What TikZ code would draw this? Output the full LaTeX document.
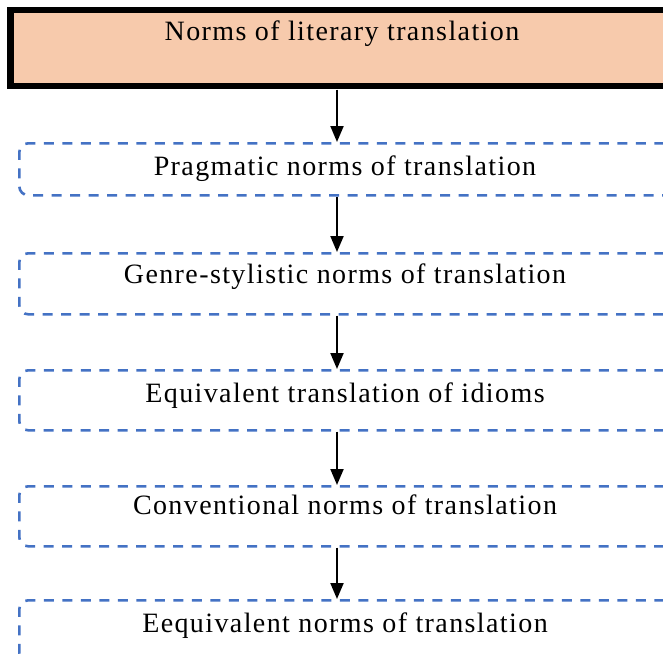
\documentclass[tikz,border=0pt]{standalone}
\usepackage{fontspec}
\setmainfont[LetterSpace=5]{Liberation Serif}
\usetikzlibrary{arrows.meta}
\definecolor{peach}{HTML}{F7CAAC}
\definecolor{dashblue}{HTML}{4472C4}
\tikzset{
  topbox/.style={draw=black, line width=6.5pt, fill=peach, inner sep=0pt},
  dbox/.style={draw=dashblue, line width=2.6pt, dash pattern=on 10pt off 8.5pt, rounded corners=9pt, inner sep=0pt},
  lbl/.style={font=\fontsize{28}{33}\selectfont, anchor=base, inner sep=0pt},
  flow/.style={draw=black, line width=2pt, -{Triangle[width=13pt,length=16pt]}}
}
\begin{document}
\begin{tikzpicture}[x=1pt,y=-1pt]
\useasboundingbox (0,0) rectangle (663,653);
\clip (0,0) rectangle (663,653);
\draw[topbox] (10.5,10) rectangle (674,86);
\coordinate (top) at (337,89.5);
\node[lbl] (t0) at (342,40) {Norms of literary translation};
\node[dbox, minimum width=654pt, minimum height=52pt, anchor=north west] (b1) at (18,142) {};
\node[dbox, minimum width=654pt, minimum height=61pt, anchor=north west] (b2) at (18,252) {};
\node[dbox, minimum width=654pt, minimum height=60pt, anchor=north west] (b3) at (18,369) {};
\node[dbox, minimum width=654pt, minimum height=60pt, anchor=north west] (b4) at (18,485) {};
\node[dbox, minimum width=654pt, minimum height=62pt, anchor=north west] (b5) at (18,599) {};
\node[lbl] (t1) at (345,175) {Pragmatic norms of translation};
\node[lbl] (t2) at (345,283) {Genre-stylistic norms of translation};
\node[lbl] (t3) at (345,402) {Equivalent translation of idioms};
\node[lbl] (t4) at (345,514) {Conventional norms of translation};
\node[lbl] (t5) at (345,632) {Eequivalent norms of translation};
\draw[flow] (top) -- (top |- b1.north);
\draw[flow] (b1.south -| top) -- (top |- b2.north);
\draw[flow] (b2.south -| top) -- (top |- b3.north);
\draw[flow] (b3.south -| top) -- (top |- b4.north);
\draw[flow] (b4.south -| top) -- (top |- b5.north);
\end{tikzpicture}
\end{document}
